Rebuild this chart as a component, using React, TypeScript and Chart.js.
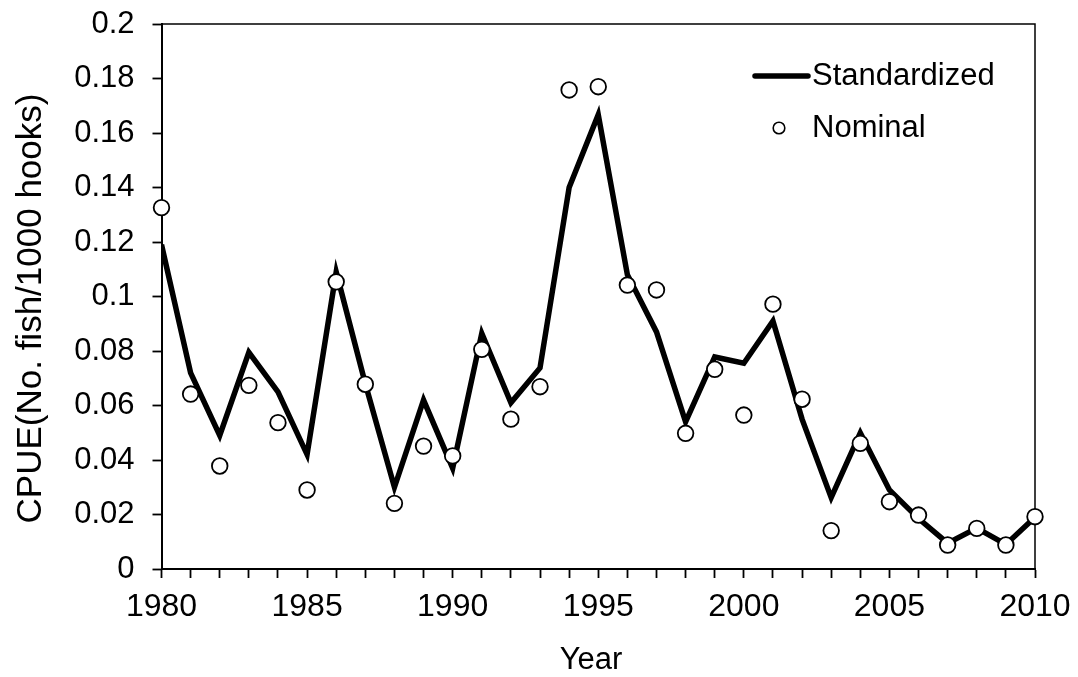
import { useEffect, useRef } from 'react';
import { Chart, registerables } from 'chart.js';

Chart.register(...registerables);

const years = [
  1980, 1981, 1982, 1983, 1984, 1985, 1986, 1987, 1988, 1989,
  1990, 1991, 1992, 1993, 1994, 1995, 1996, 1997, 1998, 1999,
  2000, 2001, 2002, 2003, 2004, 2005, 2006, 2007, 2008, 2009, 2010,
];

const standardized = [
  0.119, 0.072, 0.049, 0.0795, 0.065, 0.042, 0.109, 0.068, 0.030, 0.062,
  0.037, 0.0865, 0.061, 0.0738, 0.140, 0.1667, 0.108, 0.087, 0.054, 0.0778,
  0.0755, 0.091, 0.055, 0.0262, 0.050, 0.029, 0.0185, 0.0095, 0.015, 0.009, 0.019,
];

const nominal = [
  0.1326, 0.0642, 0.0378, 0.0674, 0.0537, 0.029, 0.1054, 0.0678, 0.0241, 0.0451,
  0.0415, 0.0806, 0.055, 0.0669, 0.1758, 0.177, 0.1042, 0.1024, 0.0498, 0.0733,
  0.0565, 0.0972, 0.0623, 0.0141, 0.0461, 0.0247, 0.0198, 0.0088, 0.0149, 0.0088, 0.0192,
];

const seriesNames = ['Standardized', 'Nominal'];
const xTitle = 'Year';
const yTitle = 'CPUE(No. fish/1000 hooks)';

const FONT = "'Liberation Sans', Arial, Helvetica, sans-serif";

export default function App() {
  const ref = useRef<HTMLCanvasElement>(null);

  useEffect(() => {
    const canvas = ref.current;
    if (!canvas) return;

    const framePlugin = {
      id: 'frame',
      beforeDatasetsDraw(chart: any) {
        const { ctx, chartArea } = chart;
        const { left, right, top, bottom } = chartArea;
        ctx.save();
        ctx.strokeStyle = '#000';
        ctx.lineWidth = 1.5;
        ctx.beginPath();
        ctx.moveTo(left, top);
        ctx.lineTo(right, top);
        ctx.lineTo(right, bottom);
        ctx.stroke();
        ctx.restore();
      },
    };

    const titlesPlugin = {
      id: 'titles',
      afterDraw(chart: any) {
        const { ctx } = chart;
        ctx.save();
        ctx.fillStyle = '#000';
        ctx.textAlign = 'center';
        ctx.textBaseline = 'middle';
        ctx.font = `31px ${FONT}`;
        ctx.fillText(xTitle, 591, 660);
        ctx.translate(31.5, 308.5);
        ctx.rotate(-Math.PI / 2);
        ctx.font = `35px ${FONT}`;
        ctx.fillText(yTitle, 0, 0);
        ctx.restore();
      },
    };

    const legendPlugin = {
      id: 'customLegend',
      afterDraw(chart: any) {
        const { ctx } = chart;
        const ds = chart.data.datasets;
        ctx.save();
        ctx.font = `31px ${FONT}`;
        ctx.fillStyle = '#000';
        ctx.textAlign = 'left';
        ctx.textBaseline = 'middle';
        ctx.strokeStyle = '#000';
        ctx.lineWidth = 5.5;
        ctx.lineCap = 'round';
        ctx.beginPath();
        ctx.moveTo(755, 76);
        ctx.lineTo(808, 76);
        ctx.stroke();
        ctx.fillText(ds[1].label, 812, 76);
        ctx.lineWidth = 1.6;
        ctx.fillStyle = '#fff';
        ctx.beginPath();
        ctx.arc(779, 128, 5.8, 0, Math.PI * 2);
        ctx.fill();
        ctx.stroke();
        ctx.fillStyle = '#000';
        ctx.fillText(ds[0].label, 812, 128);
        ctx.restore();
      },
    };

    const chart = new Chart(canvas, {
      type: 'line',
      data: {
        datasets: [
          {
            label: seriesNames[1],
            data: nominal.map((v, i) => ({ x: years[i], y: v })),
            showLine: false,
            pointRadius: 7.8,
            pointBorderWidth: 1.8,
            pointBackgroundColor: '#fff',
            pointBorderColor: '#000',
            borderColor: '#000',
            backgroundColor: '#fff',
            order: 0,
            clip: false as any,
          },
          {
            label: seriesNames[0],
            data: standardized.map((v, i) => ({ x: years[i], y: v })),
            borderColor: '#000',
            borderWidth: 5.5,
            pointRadius: 0,
            tension: 0,
            fill: false,
            borderJoinStyle: 'miter',
            borderCapStyle: 'butt',
            order: 1,
          },
        ],
      },
      options: {
        responsive: false,
        animation: false,
        events: [],
        layout: { padding: { top: 24, right: 43, left: 0, bottom: 0 } },
        plugins: {
          legend: { display: false },
          tooltip: { enabled: false },
        },
        scales: {
          x: {
            type: 'linear',
            min: 1980,
            max: 2010,
            afterFit: (s: any) => {
              s.height = 108;
              s.paddingLeft = 0;
              s.paddingRight = 0;
            },
            ticks: {
              stepSize: 1,
              autoSkip: false,
              maxRotation: 0,
              minRotation: 0,
              padding: 10,
              color: '#000',
              font: { family: FONT, size: 32 },
              callback: (v: any) => (Number(v) % 5 === 0 ? String(v) : ''),
            },
            grid: {
              drawOnChartArea: false,
              drawTicks: true,
              tickLength: 9,
              tickWidth: 1.8,
              tickColor: '#000',
              color: '#000',
            },
            border: { color: '#000', width: 2 },
            title: { display: false },
          },
          y: {
            type: 'linear',
            min: 0,
            max: 0.2,
            afterFit: (s: any) => {
              s.width = 161.5;
              s.paddingTop = 0;
              s.paddingBottom = 0;
            },
            ticks: {
              stepSize: 0.02,
              padding: 18,
              color: '#000',
              font: { family: FONT, size: 31 },
              callback: (v: any) => String(parseFloat(Number(v).toFixed(2))),
            },
            grid: {
              drawOnChartArea: false,
              drawTicks: true,
              tickLength: 9,
              tickWidth: 1.8,
              tickColor: '#000',
              color: '#000',
            },
            border: { color: '#000', width: 2 },
            title: { display: false },
          },
        },
      },
      plugins: [framePlugin, titlesPlugin, legendPlugin],
    });

    return () => chart.destroy();
  }, []);

  return (
    <div style={{ position: 'absolute', left: 0, top: 0, width: 1078, height: 677, background: '#fff' }}>
      <canvas ref={ref} width={1078} height={677} style={{ display: 'block', width: 1078, height: 677 }} />
    </div>
  );
}
